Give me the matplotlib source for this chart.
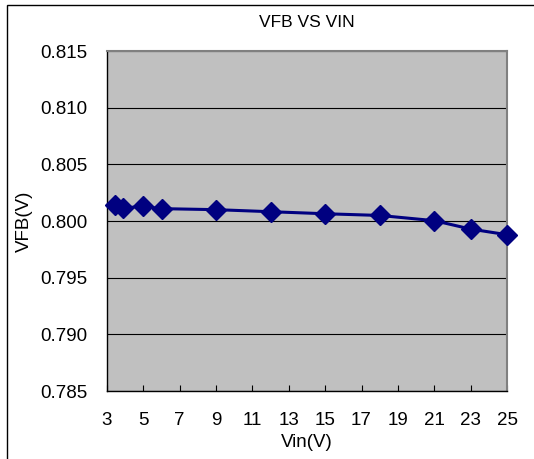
import matplotlib
matplotlib.use("Agg")
import matplotlib.pyplot as plt
from matplotlib.patches import Rectangle

vin = [3.45, 3.9, 5, 6, 9, 12, 15, 18, 21, 23, 25]
vfb = [0.80144, 0.80115, 0.80129, 0.80109, 0.80100, 0.80082,
       0.80064, 0.80049, 0.80003, 0.79929, 0.79879]
xticks = list(range(3, 26, 2))
yticks = [0.785, 0.790, 0.795, 0.800, 0.805, 0.810, 0.815]

plt.rcParams['font.family'] = ['Liberation Sans', 'DejaVu Sans']

W, H = 534, 459
fig = plt.figure(figsize=(W / 100, H / 100), dpi=100)
fig.patches.append(Rectangle((7 / W, -0.1), 1.2, 1 - 5 / H + 0.1,
                             transform=fig.transFigure, fill=False,
                             edgecolor='black', linewidth=1.0))

ax = fig.add_axes([107 / W, 1 - 391 / H, 400 / W, 340 / H])
ax.set_facecolor('#c0c0c0')
ax.plot(vin, vfb, color='#000080', linewidth=2.2, marker='D',
        markersize=10, markerfacecolor='#000080', markeredgecolor='#000080',
        clip_on=False, zorder=3)

ax.set_xlim(3, 25)
ax.set_ylim(0.785, 0.815)
ax.set_xticks(xticks)
ax.set_yticks(yticks)
ax.set_yticklabels(['%.3f' % v for v in yticks])
ax.yaxis.grid(True, color='black', linewidth=0.8)
ax.set_axisbelow(True)
ax.tick_params(axis='x', direction='in', length=4, labelsize=13.5, pad=15)
ax.tick_params(axis='y', length=0, labelsize=13.5, pad=14)

for s in ['left', 'bottom']:
    ax.spines[s].set_color('black')
    ax.spines[s].set_linewidth(1.0)
for s in ['top', 'right']:
    ax.spines[s].set_color('#808080')
    ax.spines[s].set_linewidth(1.5)

ax.set_title('VFB VS VIN', fontsize=12.5, pad=17)
ax.set_xlabel('Vin(V)', fontsize=13.5, labelpad=4)
ax.set_ylabel('VFB(V)', fontsize=13.5, labelpad=5.5)

fig.savefig('out.png', dpi=100)
